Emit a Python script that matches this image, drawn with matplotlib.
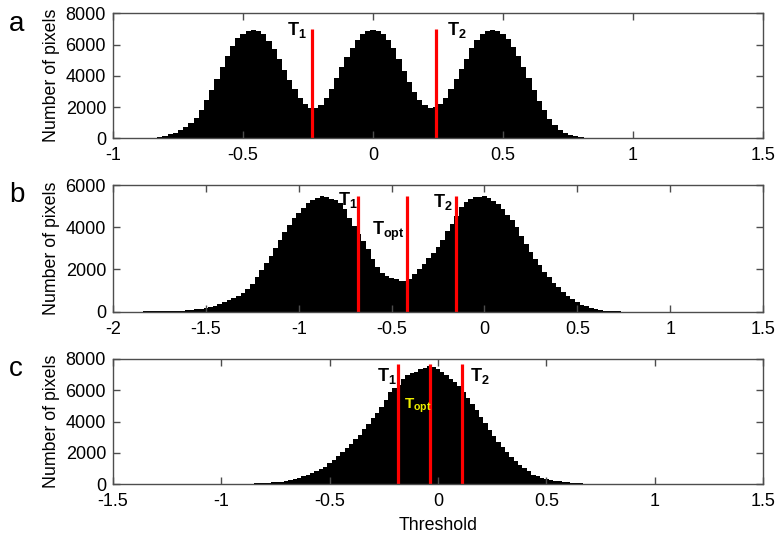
import numpy as np
import matplotlib
matplotlib.use("Agg")
import matplotlib.pyplot as plt

plt.rcParams['font.family'] = ['Liberation Sans', 'DejaVu Sans']
plt.rcParams['axes.unicode_minus'] = False
plt.rcParams['mathtext.fontset'] = 'custom'
plt.rcParams['mathtext.rm'] = 'Liberation Sans'
plt.rcParams['mathtext.bf'] = 'Liberation Sans:bold'

# panel a histogram: bins of 0.02 starting at -0.90
a_start, a_step = -0.90, 0.02
a_counts = [10, 15, 30, 50, 95, 160, 250, 370, 540, 740,
            1000, 1320, 1820, 2420, 3080, 3800, 4560, 5300, 5900, 6400,
            6700, 6880, 6950, 6880, 6650, 6250, 5700, 5080, 4400, 3750,
            3150, 2600, 2200, 1950, 1930, 2150, 2550, 3150, 3850, 4550,
            5200, 5800, 6300, 6700, 6900, 6950, 6900, 6700, 6300, 5750,
            5050, 4300, 3600, 2950, 2450, 2100, 1950, 1980, 2200, 2600,
            3150, 3800, 4450, 5100, 5750, 6300, 6650, 6850, 6950, 6880,
            6650, 6350, 5850, 5250, 4550, 3850, 3100, 2400, 1780, 1250,
            850, 560, 360, 220, 130, 75, 40, 22, 12, 6, 3]

# panel b histogram: bins of 0.025 starting at -1.90
b_start, b_step = -1.90, 0.025
b_counts = [5, 5, 8, 10, 12, 15, 18, 22, 28, 35,
            45, 55, 70, 85, 105, 130, 170, 220, 280, 350,
            440, 540, 640, 760, 900, 1080, 1320, 1620, 1960, 2320,
            2650, 3000, 3380, 3780, 4120, 4420, 4680, 4920, 5150, 5300,
            5400, 5460, 5420, 5350, 5300, 5150, 4850, 4450, 4050, 3700,
            3350, 2950, 2500, 2100, 1850, 1680, 1600, 1530, 1470, 1440,
            1560, 1780, 2000, 2250, 2520, 2800, 3050, 3400, 3800, 4150,
            4550, 4950, 5200, 5350, 5420, 5450, 5460, 5400, 5250, 5100,
            4850, 4600, 4350, 4000, 3600, 3200, 2850, 2500, 2200, 1900,
            1620, 1380, 1150, 940, 760, 600, 460, 340, 250, 180,
            125, 85, 55, 35, 20, 12, 6]

# panel c histogram: bins of 0.02 starting at -1.00
c_start, c_step = -1.00, 0.02
c_counts = [10, 12, 15, 18, 22, 27, 33, 40, 50, 62,
            78, 95, 115, 140, 175, 220, 280, 345, 420, 510,
            600, 700, 820, 960, 1130, 1340, 1580, 1830, 2080, 2330,
            2600, 2880, 3170, 3500, 3880, 4240, 4580, 4950, 5380, 5880,
            6150, 6350, 6750, 6950, 7100, 7200, 7330, 7450, 7530, 7480,
            7350, 7200, 7000, 6750, 6550, 6300, 5900, 5500, 5100, 4750,
            4300, 3900, 3480, 3080, 2720, 2380, 2070, 1760, 1480, 1240,
            1020, 830, 620, 500, 420, 350, 290, 240, 190, 150,
            120, 100, 80, 60, 45, 32, 22, 15, 10, 6, 3]

# thresholds (position, line height)
a_thr = [(-0.233, 7000), (0.241, 7000)]
b_thr = [(-0.679, 5500), (-0.415, 5500), (-0.155, 5500)]
c_thr = [(-0.186, 7700), (-0.037, 7700), (0.112, 7700)]

a_xticks = [-1, -0.5, 0, 0.5, 1, 1.5]
b_xticks = [-2, -1.5, -1, -0.5, 0, 0.5, 1, 1.5]
c_xticks = [-1.5, -1, -0.5, 0, 0.5, 1, 1.5]
a_yticks = [0, 2000, 4000, 6000, 8000]
b_yticks = [0, 2000, 4000, 6000]
c_yticks = [0, 2000, 4000, 6000, 8000]


def fmt(v):
    return f"{v:g}"


def draw_panel(ax, start, step, counts, thr, xticks, yticks, letter):
    n = len(counts)
    edges = start - step / 2 + step * np.arange(n + 1)
    ax.stairs(counts, edges, fill=True, color='black', linewidth=0)
    for x, h in thr:
        ax.plot([x, x], [0, h], color='#ff0000', lw=2.3, solid_capstyle='butt')
    ax.set_xlim(xticks[0], xticks[-1])
    ax.set_ylim(yticks[0], yticks[-1])
    ax.set_xticks(xticks)
    ax.set_xticklabels([fmt(v) for v in xticks])
    ax.set_yticks(yticks)
    ax.set_yticklabels([fmt(v) for v in yticks])
    ax.tick_params(direction='in', top=True, right=True, length=5,
                   width=1, color='0.3', labelsize=13)
    ax.tick_params(axis='x', pad=6.5)
    ax.tick_params(axis='y', pad=5)
    for s in ax.spines.values():
        s.set_color('0.3')
        s.set_linewidth(1)
    ax.set_ylabel('Number of pixels', fontsize=12.8, labelpad=4)
    ax.text(-0.16, 1.02, letter, transform=ax.transAxes, fontsize=20,
            ha='left', va='top')


fig = plt.figure(figsize=(7.77, 5.35), dpi=100)
ax_a = fig.add_axes([0.1454, 0.7415, 0.8366, 0.2336])
ax_b = fig.add_axes([0.1454, 0.4174, 0.8366, 0.2368])
ax_c = fig.add_axes([0.1454, 0.0948, 0.8366, 0.2342])

draw_panel(ax_a, a_start, a_step, a_counts, a_thr, a_xticks, a_yticks, 'a')
draw_panel(ax_b, b_start, b_step, b_counts, b_thr, b_xticks, b_yticks, 'b')
draw_panel(ax_c, c_start, c_step, c_counts, c_thr, c_xticks, c_yticks, 'c')

lab = dict(fontsize=13, va='top', ha='left')
ax_a.text(-0.33, 7550, r'$\mathbf{T}_{\mathbf{1}}$', **lab)
ax_a.text(0.283, 7550, r'$\mathbf{T}_{\mathbf{2}}$', **lab)
ax_b.text(-0.79, 5760, r'$\mathbf{T}_{\mathbf{1}}$', **lab)
ax_b.text(-0.607, 4340, r'$\mathbf{T}_{\mathbf{opt}}$', **lab)
ax_b.text(-0.275, 5680, r'$\mathbf{T}_{\mathbf{2}}$', **lab)
ax_c.text(-0.283, 7550, r'$\mathbf{T}_{\mathbf{1}}$', **lab)
ax_c.text(-0.157, 5600, r'$\mathbf{T}_{\mathbf{opt}}$', fontsize=11,
          va='top', ha='left', color='#eeee00')
ax_c.text(0.147, 7550, r'$\mathbf{T}_{\mathbf{2}}$', **lab)

ax_c.set_xlabel('Threshold', fontsize=12.8, labelpad=5)

fig.savefig('out.png', dpi=100)
